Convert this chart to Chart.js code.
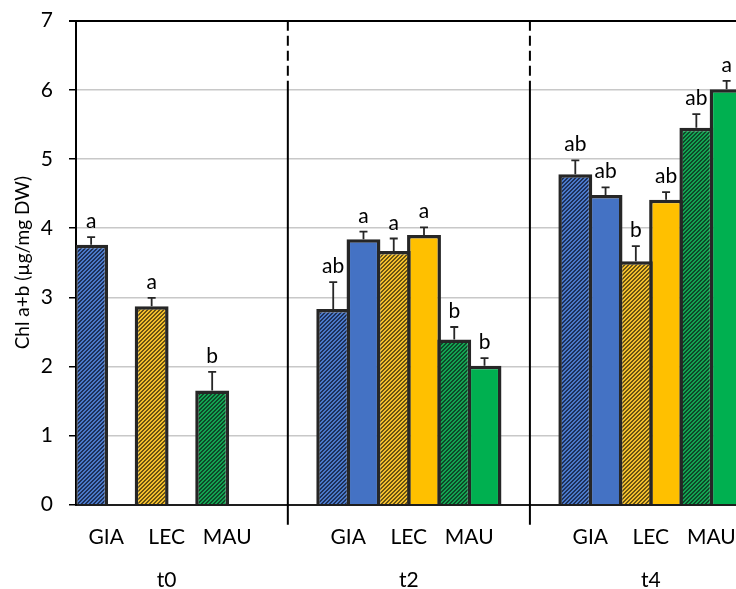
<!DOCTYPE html>
<html>
<head>
<meta charset="utf-8">
<script src="https://cdn.jsdelivr.net/npm/chart.js@4/dist/chart.umd.min.js"></script>
<style>
  html, body { margin: 0; padding: 0; background: #fff; overflow: hidden; }
  #wrap { width: 772px; height: 589px; position: relative; }
</style>
</head>
<body>
<div id="wrap"><canvas id="c"></canvas></div>
<script>
// ---- data ----
const strains = ['GIA', 'LEC', 'MAU'];
const times = ['t0', 't2', 't4'];
const yTicks = [0, 1, 2, 3, 4, 5, 6, 7];

// Chl a+b means, hatched bars (GIA, LEC, MAU)
const hatchedT0 = [3.76, 2.87, 1.65];
const hatchedT2 = [2.83, 3.67, 2.39];
const hatchedT4 = [4.78, 3.52, 5.45];
// Chl a+b means, solid bars (not measured at t0)
const solidT2 = [3.84, 3.90, 2.01];
const solidT4 = [4.48, 4.41, 6.01];

// error (upper whisker)
const hatchedErrT0 = [0.11, 0.12, 0.27];
const hatchedErrT2 = [0.39, 0.18, 0.18];
const hatchedErrT4 = [0.20, 0.22, 0.20];
const solidErrT2 = [0.11, 0.11, 0.11];
const solidErrT4 = [0.11, 0.11, 0.12];

// significance letters
const hatchedLetT0 = ['a', 'a', 'b'];
const hatchedLetT2 = ['ab', 'a', 'b'];
const hatchedLetT4 = ['ab', 'b', 'ab'];
const solidLetT2 = ['a', 'a', 'b'];
const solidLetT4 = ['ab', 'ab', 'a'];

// ---- slot layout: each bar takes one slot on the category axis ----
const SLOT_COUNT = 23;
const GROUP_FIRST_SLOT = [0, 8, 16];
const DIVIDER_SLOTS = [7, 15];
const DIVIDER_SOLID_FROM = 6.1;
const FONT = 'Lato, "Open Sans", sans-serif';
const FONT_SIZE = 21;
const INK = '#262626';

function toSlots(byTime, offset) {
  const out = new Array(SLOT_COUNT).fill(null);
  byTime.forEach((vals, g) => {
    if (!vals) return;
    vals.forEach((v, s) => { out[GROUP_FIRST_SLOT[g] + 2 * s + offset] = v; });
  });
  return out;
}
const strainOfSlot = new Array(SLOT_COUNT).fill(0).map((_, i) => {
  for (let g = 0; g < GROUP_FIRST_SLOT.length; g++) {
    const k = i - GROUP_FIRST_SLOT[g];
    if (k >= 0 && k < 6) return Math.floor(k / 2);
  }
  return 0;
});

const hatchedData = toSlots([hatchedT0, hatchedT2, hatchedT4], 0);
const solidData = toSlots([null, solidT2, solidT4], 1);
const hatchedErr = toSlots([hatchedErrT0, hatchedErrT2, hatchedErrT4], 0);
const solidErr = toSlots([null, solidErrT2, solidErrT4], 1);
const hatchedLet = toSlots([hatchedLetT0, hatchedLetT2, hatchedLetT4], 0);
const solidLet = toSlots([null, solidLetT2, solidLetT4], 1);

const strainSlotLabels = new Array(SLOT_COUNT).fill('');
GROUP_FIRST_SLOT.forEach(first => strains.forEach((s, k) => { strainSlotLabels[first + 2 * k] = s; }));
const timeSlotLabels = new Array(SLOT_COUNT).fill('');
GROUP_FIRST_SLOT.forEach((first, g) => { timeSlotLabels[first + 2] = times[g]; });

// ---- fills ----
const canvas = document.getElementById('c');
const ctx0 = canvas.getContext('2d');
function stripes(light, dark) {
  const t = document.createElement('canvas');
  t.width = 8; t.height = 8;
  const g = t.getContext('2d');
  for (let y = 0; y < 8; y++) {
    for (let x = 0; x < 8; x++) {
      g.fillStyle = ((x + y) % 4 < 2) ? dark : light;
      g.fillRect(x, y, 1, 1);
    }
  }
  return ctx0.createPattern(t, 'repeat');
}
const hatchedFills = [
  stripes('#4a78c8', '#1d3058'),
  stripes('#f2be2c', '#6a5312'),
  stripes('#13a352', '#0e4828')
];
const solidFills = ['#4472C4', '#FFC000', '#00B050'];

// drop the automatic label overflow padding so the plot box stays where it is set
function noEdgePadding(s) {
  s.paddingTop = 0; s.paddingBottom = 0; s.paddingLeft = 0; s.paddingRight = 0;
}

// ---- error bars, letters and period dividers ----
const annotate = {
  id: 'annotate',
  afterDatasetsDraw(chart) {
    const { ctx, scales: { y } } = chart;
    const errs = [hatchedErr, solidErr];
    const lets = [hatchedLet, solidLet];
    ctx.save();
    chart.data.datasets.forEach((ds, di) => {
      const meta = chart.getDatasetMeta(di);
      meta.data.forEach((bar, i) => {
        const v = ds.data[i];
        if (v == null) return;
        const top = y.getPixelForValue(v + errs[di][i]);
        const base = y.getPixelForValue(v);
        ctx.strokeStyle = INK;
        ctx.lineWidth = 1.8;
        ctx.beginPath();
        ctx.moveTo(bar.x, base);
        ctx.lineTo(bar.x, top);
        ctx.moveTo(bar.x - 4, top);
        ctx.lineTo(bar.x + 4, top);
        ctx.stroke();
        ctx.fillStyle = '#000';
        ctx.font = FONT_SIZE + 'px ' + FONT;
        ctx.textAlign = 'center';
        ctx.textBaseline = 'alphabetic';
        ctx.fillText(lets[di][i], bar.x, top - 9);
      });
    });
    ctx.restore();
  },
  afterDraw(chart) {
    const { ctx, chartArea, scales: { x, y } } = chart;
    const half = (x.getPixelForValue(1) - x.getPixelForValue(0)) / 2;
    const yBreak = y.getPixelForValue(DIVIDER_SOLID_FROM);
    ctx.save();
    ctx.strokeStyle = '#000';
    ctx.lineWidth = 2;
    DIVIDER_SLOTS.forEach(s => {
      const px = x.getPixelForValue(s) - half;
      ctx.setLineDash([]);
      ctx.beginPath();
      ctx.moveTo(px, yBreak);
      ctx.lineTo(px, chartArea.bottom + 20);
      ctx.stroke();
      ctx.setLineDash([10, 5]);
      ctx.beginPath();
      ctx.moveTo(px, chartArea.top);
      ctx.lineTo(px, yBreak);
      ctx.stroke();
    });
    ctx.restore();
  }
};

new Chart(canvas, {
  type: 'bar',
  data: {
    labels: strainSlotLabels,
    datasets: [
      {
        label: 'hatched',
        data: hatchedData,
        backgroundColor: strainOfSlot.map(k => hatchedFills[k]),
        borderColor: INK,
        borderWidth: 3.5,
        grouped: false,
        barPercentage: 1.12,
        categoryPercentage: 1
      },
      {
        label: 'solid',
        data: solidData,
        backgroundColor: strainOfSlot.map(k => solidFills[k]),
        borderColor: INK,
        borderWidth: 3.5,
        grouped: false,
        barPercentage: 1.12,
        categoryPercentage: 1
      }
    ]
  },
  options: {
    responsive: true,
    maintainAspectRatio: false,
    animation: false,
    layout: { padding: { top: 20.7, left: 0, right: 0, bottom: 0 } },
    plugins: { legend: { display: false }, tooltip: { enabled: false } },
    scales: {
      x: {
        type: 'category',
        offset: true,
        grid: { display: false },
        border: { display: true, color: '#1e1e1e', width: 2 },
        ticks: {
          autoSkip: false, maxRotation: 0, minRotation: 0,
          labelOffset: 15, padding: 12, color: '#000',
          font: { family: FONT, size: FONT_SIZE }
        },
        afterFit(s) { s.height = 46; noEdgePadding(s); }
      },
      x2: {
        type: 'category',
        position: 'bottom',
        labels: timeSlotLabels,
        offset: true,
        grid: { display: false },
        border: { display: false },
        ticks: {
          autoSkip: false, maxRotation: 0, minRotation: 0,
          labelOffset: 15, padding: 9, color: '#000',
          font: { family: FONT, size: FONT_SIZE }
        },
        afterFit(s) { s.height = 38.3; noEdgePadding(s); }
      },
      y: {
        min: 0, max: 7,
        afterBuildTicks(s) { s.ticks = yTicks.map(v => ({ value: v })); },
        border: { display: true, color: '#000', width: 2 },
        grid: {
          color: c => c.tick.value === 7 ? '#000' : (c.tick.value === 0 ? 'rgba(0,0,0,0)' : '#c8c8c8'),
          lineWidth: c => c.tick.value === 7 ? 2 : 1.5,
          tickColor: '#000',
          tickLength: 7
        },
        ticks: { padding: 16, color: '#000', font: { family: FONT, size: FONT_SIZE } },
        title: {
          display: true,
          text: 'Chl a+b (µg/mg DW)',
          color: '#000',
          font: { family: FONT, size: 19 },
          padding: { top: 11, bottom: 0 }
        },
        afterFit(s) { s.width = 76; noEdgePadding(s); }
      }
    }
  },
  plugins: [annotate]
});
</script>
</body>
</html>
